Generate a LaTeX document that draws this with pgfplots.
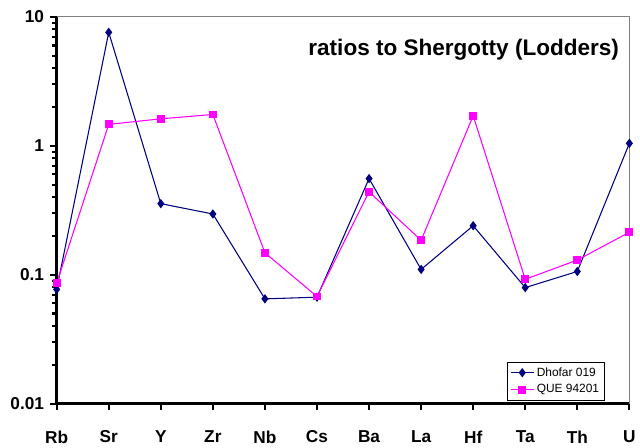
\documentclass[border=0pt]{standalone}
\usepackage{fontspec}
\setmainfont{Liberation Sans}
\usepackage{pgfplots}
\pgfplotsset{compat=1.18}
\definecolor{dhofar}{RGB}{0,0,128}
\definecolor{que}{RGB}{255,0,255}

\begin{document}
\begin{tikzpicture}
\begin{axis}[
    at={(0,0)}, anchor=south west,
    scale only axis,
    width=432pt, height=291.75pt,
    ymode=log,
    xmin=0, xmax=11,
    ymin=0.01, ymax=10,
    axis x line*=bottom,
    axis y line*=left,
    axis line style={black, line width=2.2pt},
    xtick={0,...,11},
    xticklabels={Rb,Sr,Y,Zr,Nb,Cs,Ba,La,Hf,Ta,Th,U},
    ytick={0.01,0.1,1,10},
    yticklabels={0.01,0.1,1,10},
    xtick align=outside,
    ytick align=outside,
    major tick length=5pt,
    minor tick length=3.5pt,
    major tick style={black, line width=1.6pt},
    minor tick style={black, line width=1.6pt},
    ticklabel style={font=\fontsize{13}{13}\selectfont\bfseries},
    xticklabel style={yshift=-12pt},
    yticklabel style={xshift=-1pt},
    clip=false,
    legend style={at={(0.957,0.008)}, anchor=south east,
        font=\fontsize{9}{11}\selectfont, draw=black, line width=0.5pt,
        row sep=1pt, inner sep=2pt},
    legend cell align=left,
    before end axis/.code={
        \draw[gray, line width=0.7pt] (rel axis cs:0,1) -- (rel axis cs:1,1) -- (rel axis cs:1,0);
        \node[anchor=east, font=\fontsize{17}{17}\selectfont\bfseries] at (rel axis cs:0.99,0.915) {ratios to Shergotty (Lodders)};
    },
]
\addplot[color=dhofar, line width=0.8pt, mark=diamond*, mark size=2.9pt]
    coordinates {
    (0,0.077)(1,7.59)(2,0.356)(3,0.296)(4,0.065)(5,0.067)
    (6,0.557)(7,0.110)(8,0.240)(9,0.0795)(10,0.106)(11,1.045)
    };
\addlegendentry{Dhofar 019}
\addplot[color=que, line width=0.8pt, mark=square*, mark size=2.6pt]
    coordinates {
    (0,0.0859)(1,1.466)(2,1.62)(3,1.75)(4,0.148)(5,0.0678)
    (6,0.440)(7,0.185)(8,1.71)(9,0.0922)(10,0.130)(11,0.2136)
    };
\addlegendentry{QUE 94201}
\end{axis}
\path[use as bounding box] (-42.75pt,-30pt) rectangle (437.25pt,304.5pt);
\end{tikzpicture}
\end{document}
